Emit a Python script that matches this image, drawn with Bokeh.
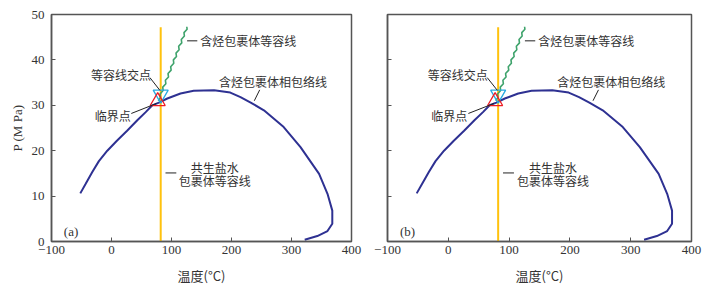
from bokeh.plotting import figure
from bokeh.layouts import row
from bokeh.models import Label, FixedTicker
from bokeh.embed import file_html
from bokeh.resources import INLINE

# ---- data ----
env_T = [-52, -43, -32, -21, -7, 9, 26, 43, 57, 68, 79, 93, 115, 137, 171, 198, 215, 232, 254, 287, 315, 346, 360, 368, 368, 360, 343, 322]
env_P = [10.6, 12.7, 15.3, 17.7, 20.0, 22.2, 24.4, 26.7, 28.5, 30.0, 30.6, 31.5, 32.6, 33.2, 33.3, 32.8, 31.8, 30.6, 28.9, 25.2, 20.8, 14.9, 10.5, 6.8, 3.9, 2.3, 1.2, 0.4]

iso_T = [78, 81.7, 80.9, 86.1, 85.4, 90.6, 89.8, 95.0, 94.2, 99.4, 98.6, 103.8, 103.1, 108.3, 107.5, 112.7, 111.9, 117.1, 116.3, 121.5, 120.8, 126.0, 125.5]
iso_P = [31.0, 31.75, 32.5, 33.25, 34.0, 34.75, 35.5, 36.25, 37.0, 37.75, 38.5, 39.25, 40.0, 40.75, 41.5, 42.25, 43.0, 43.75, 44.5, 45.25, 46.0, 46.75, 47.3]

brine_T = [82, 82]
brine_P = [0, 47.2]

cross_T = [82]
cross_P = [32.4]
crit_T = [77]
crit_P = [30.9]

x_ticks = [-100, 0, 100, 200, 300, 400]
y_ticks = [0, 10, 20, 30, 40, 50]

FONT = "Liberation Serif, Noto Sans CJK SC"
CJK = "Noto Sans CJK SC"
TXT = "#333333"


def make_panel(tag, show_y, frame_w, bl, br):
    p = figure(frame_width=frame_w, frame_height=227, x_range=(-100, 400), y_range=(0, 50),
               output_backend="svg", toolbar_location=None,
               min_border_left=bl, min_border_right=br, min_border_top=14, min_border_bottom=40)
    p.grid.visible = False
    p.outline_line_color = "#555555"
    p.outline_line_width = 1.5
    p.background_fill_color = "white"
    p.border_fill_color = "white"
    for ax in (p.xaxis[0], p.yaxis[0]):
        ax.axis_line_color = "#555555"
        ax.axis_line_width = 1.5
        ax.major_tick_in = 4
        ax.major_tick_out = 0
        ax.major_tick_line_color = "#555555"
        ax.minor_tick_line_color = None
        ax.major_label_text_font = FONT
        ax.major_label_text_font_size = "13px"
        ax.major_label_text_color = TXT
        ax.axis_label_text_font = FONT
        ax.axis_label_text_font_size = "13px"
        ax.axis_label_text_font_style = "normal"
        ax.axis_label_text_color = TXT
    p.xaxis.ticker = FixedTicker(ticks=x_ticks)
    p.yaxis.ticker = FixedTicker(ticks=y_ticks)
    p.xaxis.major_label_standoff = 4
    p.xaxis.axis_label = "温度(°C)"
    p.xaxis.axis_label_text_font = CJK
    p.xaxis.axis_label_standoff = 9
    if show_y:
        p.yaxis.axis_label = "P (M Pa)"
        p.yaxis.major_label_standoff = 7
        p.yaxis.axis_label_standoff = 4
    else:
        p.yaxis.major_label_overrides = {t: "" for t in y_ticks}
        p.yaxis.major_label_standoff = 0

    p.line(brine_T, brine_P, line_color="#FFC20E", line_width=2)
    p.line(env_T, env_P, line_color="#2E3192", line_width=2)
    p.line(iso_T, iso_P, line_color="#3FA36C", line_width=1.6)
    p.scatter(cross_T, cross_P, marker="inverted_triangle", size=15, fill_color=None,
              line_color="#27AAE1", line_width=1.3)
    p.scatter(crit_T, crit_P, marker="triangle", size=15, fill_color=None,
              line_color="#ED1C24", line_width=1.3)

    # leader lines
    p.segment(x0=[126, 238, 64, 33, 90], y0=[44.2, 31.0, 36.1, 28.2, 15.1],
              x1=[143, 247, 80.6, 75, 108], y1=[44.2, 33.4, 33.3, 30.4, 15.1],
              line_color="#222222", line_width=1)

    def lab(x, y, t, align="left", font=CJK, size="12px"):
        p.add_layout(Label(x=x, y=y, text=t, text_font=font, text_font_size=size,
                           text_color=TXT, text_align=align, text_baseline="middle"))

    lab(148, 44.2, "含烃包裹体等容线")
    lab(179, 35.2, "含烃包裹体相包络线")
    lab(-34, 36.7, "等容线交点")
    lab(-28, 27.7, "临界点")
    lab(172, 16.4, "共生盐水", align="center")
    lab(172, 13.5, "包裹体等容线", align="center")
    lab(-79.5, 2.1, tag, font="Liberation Serif", size="13px")
    return p


p1 = make_panel("(a)", True, 300, 51, 15)
p2 = make_panel("(b)", False, 304, 21, 17)
layout = row(p1, p2, spacing=0)

open("out.html", "w").write(file_html(layout, INLINE))
